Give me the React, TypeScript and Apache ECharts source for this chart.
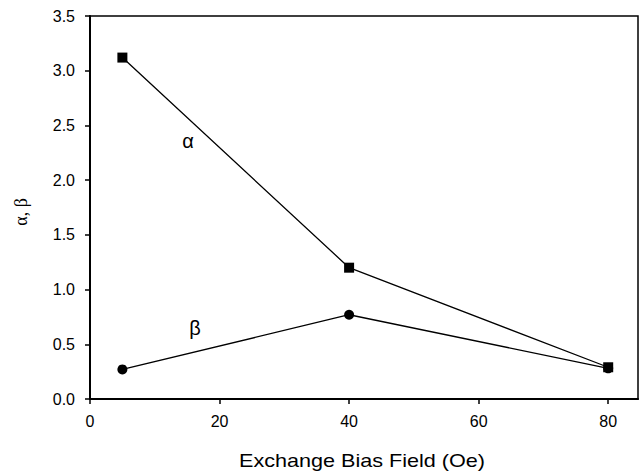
import React, { useEffect, useRef } from "react";
import * as echarts from "echarts";

const fieldOe = [5, 40, 80];
const alphaValues = [3.12, 1.2, 0.29];
const betaValues = [0.27, 0.77, 0.28];
const xTicks = [0, 20, 40, 60, 80];
const xTitle = "Exchange Bias Field (Oe)";
const yTitle = "α, β";

export default function App() {
  const ref = useRef<HTMLDivElement>(null);
  useEffect(() => {
    const chart = echarts.init(ref.current!, null, { renderer: "svg" });
    const sans = "'Liberation Sans', Arial, sans-serif";
    chart.setOption({
      animation: false,
      backgroundColor: "#ffffff",
      grid: { left: 90, top: 16, right: 2, bottom: 74, show: true, borderColor: "#000", borderWidth: 1.5 },
      xAxis: {
        type: "value",
        min: xTicks[0],
        max: 84.6,
        interval: 20,
        axisLine: { show: true, lineStyle: { color: "#000", width: 2 } },
        axisTick: { show: true, inside: false, length: 5, lineStyle: { color: "#000", width: 1.5 } },
        axisLabel: { color: "#000", fontSize: 16, fontFamily: sans, margin: 14, showMaxLabel: false },
        splitLine: { show: false },
      },
      yAxis: {
        type: "value",
        min: 0,
        max: 3.5,
        interval: 0.5,
        axisLine: { show: true, lineStyle: { color: "#000", width: 2 } },
        axisTick: { show: true, inside: false, length: 5, lineStyle: { color: "#000", width: 1.5 } },
        axisLabel: { color: "#000", fontSize: 16, fontFamily: sans, margin: 15, formatter: (v: number) => v.toFixed(1) },
        splitLine: { show: false },
      },
      series: [
        {
          name: "α",
          type: "line",
          data: fieldOe.map((x, i) => [x, alphaValues[i]]),
          symbol: "rect",
          symbolSize: 10,
          lineStyle: { color: "#000", width: 1.3 },
          itemStyle: { color: "#000" },
        },
        {
          name: "β",
          type: "line",
          data: fieldOe.map((x, i) => [x, betaValues[i]]),
          symbol: "circle",
          symbolSize: 10,
          lineStyle: { color: "#000", width: 1.3 },
          itemStyle: { color: "#000" },
        },
      ],
      graphic: [
        {
          type: "text",
          x: 188,
          y: 141,
          style: { text: "α", font: "20px 'Liberation Sans', Arial, sans-serif", fill: "#000", align: "center", verticalAlign: "middle" },
        },
        {
          type: "text",
          x: 195,
          y: 328,
          style: { text: "β", font: "20px 'Liberation Sans', Arial, sans-serif", fill: "#000", align: "center", verticalAlign: "middle" },
        },
        {
          type: "text",
          x: 362,
          y: 461,
          scaleX: 1.2,
          style: { text: xTitle, font: "18px 'Liberation Sans', Arial, sans-serif", fill: "#000", align: "center", verticalAlign: "middle" },
        },
        {
          type: "text",
          x: 21,
          y: 212,
          rotation: Math.PI / 2,
          style: { text: yTitle, font: "18px 'Liberation Serif', 'Times New Roman', serif", fill: "#000", align: "center", verticalAlign: "middle" },
        },
      ],
    });
    return () => chart.dispose();
  }, []);
  return <div ref={ref} style={{ width: 640, height: 473, position: "absolute", left: 0, top: 0 }} />;
}
